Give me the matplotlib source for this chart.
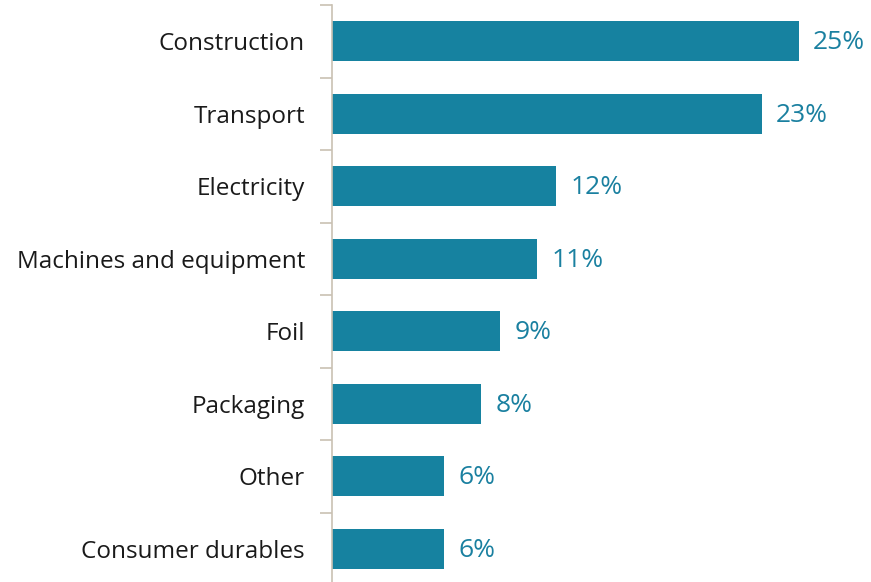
import matplotlib
matplotlib.use("Agg")
import matplotlib.pyplot as plt

plt.rcParams['font.family'] = ['Open Sans', 'DejaVu Sans']

categories = ["Construction", "Transport", "Electricity", "Machines and equipment",
              "Foil", "Packaging", "Other", "Consumer durables"]
shares = [25, 23, 12, 11, 9, 8, 6, 6]

bar_color = "#1682a0"
axis_color = "#c9c1b3"

fig = plt.figure(figsize=(8.71, 5.82), dpi=100)
ax = fig.add_axes([332 / 871, -3 / 582, 1 - 332 / 871, 580 / 582])

n = len(categories)
pos = list(range(n))
ax.barh(pos, shares, height=0.55, color=bar_color)
ax.set_ylim(n - 0.5, -0.5)
ax.set_xlim(0, (871 - 332) / 18.68)

for y, v in zip(pos, shares):
    ax.text(v + 0.75, y + 0.02, f"{v}%", va="center", ha="left",
            fontsize=19, color="#1a80a0")

# category labels sit between the boundary ticks
ax.set_yticks(pos)
ax.set_yticklabels(categories, fontsize=17.5, color="#1a1a1a")
ax.tick_params(axis="y", which="major", length=0, pad=19.5)
ax.set_yticks([p + 0.5 for p in [-1] + pos], minor=True)
ax.tick_params(axis="y", which="minor", length=9, width=1.2, color=axis_color)

ax.set_xticks([])
for s in ["top", "right", "bottom"]:
    ax.spines[s].set_visible(False)
ax.spines["left"].set_color(axis_color)
ax.spines["left"].set_linewidth(1.2)

fig.savefig("out.png", dpi=100)
